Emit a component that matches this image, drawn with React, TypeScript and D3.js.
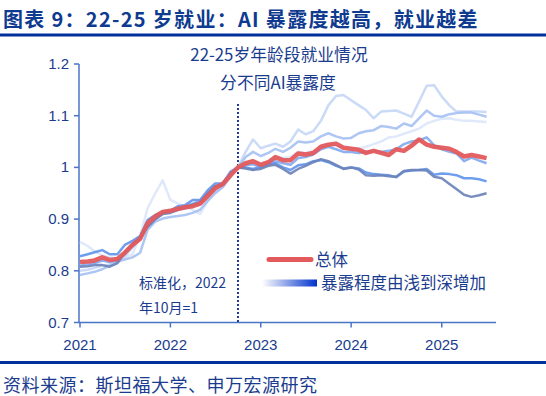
import React from 'react';
import * as d3 from 'd3';

// 月度数据：2021年1月 ~ 2025年7月，2022年10月 = 1
const START_YEAR = 2021;
const yearTicks = [2021, 2022, 2023, 2024, 2025];
const yTickValues = [0.7, 0.8, 0.9, 1, 1.1, 1.2];

const totalSeries = [
  0.817, 0.818, 0.82, 0.826, 0.821, 0.823, 0.835, 0.85, 0.862, 0.892, 0.905, 0.914, 0.916, 0.92, 0.923, 0.925, 0.93, 0.945, 0.96, 0.968, 0.985, 1.0,
  1.008, 1.012, 1.005, 1.01, 1.02, 1.014, 1.014, 1.027, 1.025, 1.028, 1.04, 1.044, 1.046, 1.038, 1.036, 1.034, 1.028, 1.032, 1.028, 1.024, 1.035, 1.032, 1.042, 1.054, 1.044, 1.04, 1.038, 1.036, 1.03, 1.021, 1.024, 1.021, 1.018,
];

// 暴露程度由浅到深
const exposure1 = [
  0.856, 0.848, 0.838, 0.83, 0.826, 0.824, 0.826, 0.832, 0.868, 0.921, 0.95, 0.975, 0.937, 0.93, 0.925, 0.918, 0.91, 0.935, 0.952, 0.962, 0.985, 1.0,
  1.005, 1.01, 1.008, 1.012, 1.02, 1.018, 1.02, 1.03, 1.028, 1.032, 1.04, 1.045, 1.042, 1.038, 1.035, 1.036, 1.04, 1.045, 1.05, 1.058, 1.06, 1.065, 1.07, 1.075, 1.085, 1.09, 1.094, 1.095, 1.092, 1.09, 1.09, 1.089, 1.088,
];
const exposure2 = [
  0.8, 0.802, 0.806, 0.81, 0.812, 0.815, 0.828, 0.845, 0.862, 0.89, 0.905, 0.912, 0.915, 0.918, 0.92, 0.925, 0.928, 0.94, 0.955, 0.965, 0.985, 1.0,
  1.03, 1.054, 1.037, 1.042, 1.046, 1.04, 1.05, 1.073, 1.064, 1.07, 1.09, 1.12, 1.138, 1.14, 1.13, 1.12, 1.111, 1.095, 1.108, 1.109, 1.11, 1.104, 1.098, 1.127, 1.158, 1.159, 1.137, 1.12, 1.108, 1.108, 1.108, 1.108, 1.107,
];
const exposure3 = [
  0.792, 0.795, 0.798, 0.803, 0.81, 0.818, 0.822, 0.826, 0.835, 0.879, 0.895, 0.901, 0.904, 0.906, 0.908, 0.912, 0.918, 0.935, 0.95, 0.962, 0.982, 1.0,
  1.02, 1.03, 1.022, 1.028, 1.036, 1.03, 1.038, 1.05, 1.048, 1.05, 1.06, 1.066, 1.06, 1.056, 1.057, 1.066, 1.07, 1.072, 1.08, 1.078, 1.075, 1.085, 1.08, 1.095, 1.11, 1.1, 1.098, 1.103, 1.105, 1.106, 1.106, 1.102, 1.098,
];
const exposure4 = [
  0.81, 0.812, 0.815, 0.82, 0.817, 0.82, 0.832, 0.848, 0.862, 0.885, 0.9, 0.91, 0.915, 0.92, 0.925, 0.93, 0.935, 0.948, 0.962, 0.97, 0.988, 1.0,
  1.004, 1.006, 1.0, 1.008, 1.012, 1.008, 1.005, 1.018, 1.02, 1.025, 1.035, 1.04, 1.035, 1.03, 1.03, 1.028, 1.03, 1.032, 1.03, 1.032, 1.035, 1.045, 1.05, 1.052, 1.058, 1.043, 1.035, 1.03, 1.027, 1.012, 1.019, 1.013, 1.008,
];
const exposure5 = [
  0.828, 0.832, 0.836, 0.84, 0.832, 0.832, 0.85, 0.858, 0.867, 0.898, 0.908, 0.914, 0.916, 0.925, 0.927, 0.937, 0.937, 0.956, 0.969, 0.969, 0.992, 1.0,
  1.0, 0.997, 1.001, 1.006, 1.008, 1.0, 0.995, 1.004, 1.006, 1.012, 1.014, 1.01, 1.003, 0.998, 1.0, 0.998, 0.99, 0.987, 0.986, 0.985, 0.981, 0.992, 0.994, 0.995, 0.997, 0.986, 0.988, 0.987, 0.985, 0.979, 0.979, 0.977, 0.973,
];
const exposure6 = [
  0.808, 0.809, 0.811, 0.811, 0.808, 0.815, 0.835, 0.852, 0.865, 0.885, 0.9, 0.91, 0.912, 0.918, 0.922, 0.928, 0.932, 0.95, 0.964, 0.966, 0.988, 1.0,
  0.998, 0.995, 0.997, 1.003, 1.005, 0.997, 0.988, 0.997, 1.003, 1.01, 1.016, 1.012, 1.005, 0.997, 1.0, 0.996, 0.985, 0.984, 0.985, 0.983, 0.982, 0.993, 0.995, 0.995, 0.994, 0.982, 0.979, 0.968, 0.958, 0.947, 0.943, 0.946, 0.95,
];

const blueSeries = [exposure1, exposure2, exposure3, exposure4, exposure5, exposure6];
const blueColors = ['#DCE7FA', '#C4D6F6', '#A5C0F2', '#80A8EE', '#6094EC', '#6A82B8'];

const TEXT = '#1A3C8E';
const AXIS = '#4A74C8';
const FONT = '"Liberation Sans", Arial, "Noto Sans CJK SC", sans-serif';
const CJK = '"Noto Sans CJK SC", "Liberation Sans", sans-serif';

const monthDate = (i: number) => new Date(START_YEAR, i, 1);

export default function App() {
  const width = 546;
  const height = 396;

  const x = d3.scaleTime()
    .domain([new Date(2021, 0, 1), new Date(2025, 7, 8)])
    .range([80, 496]);
  const y = d3.scaleLinear().domain([0.7, 1.2]).range([322.5, 64]);

  const line = d3.line<number>()
    .x((_, i) => x(monthDate(i)))
    .y(d => y(d));

  const refX = x(new Date(2022, 9, 1));

  return (
    <svg width={width} height={height} style={{ position: 'absolute', left: 0, top: 0, background: '#fff' }}>
      <defs>
        <linearGradient id="legendGrad" x1="0" x2="1" y1="0" y2="0">
          <stop offset="0%" stopColor="#ffffff" />
          <stop offset="100%" stopColor="#0033CC" />
        </linearGradient>
      </defs>

      {/* 标题 */}
      <text x={3} y={27} fontSize={20} fontWeight="bold" fill="#0E3A8F" fontFamily={CJK} letterSpacing={1.3}>
        图表 9：22-25 岁就业：AI 暴露度越高，就业越差
      </text>
      <rect x={0} y={33.5} width={width} height={3} fill="#00309C" />

      {/* 坐标轴 */}
      <line x1={79} x2={79} y1={y(1.2)} y2={y(0.7)} stroke={AXIS} strokeWidth={1.5} />
      <line x1={79} x2={496} y1={y(0.7)} y2={y(0.7)} stroke={AXIS} strokeWidth={1.5} />
      {yTickValues.map(v => (
        <g key={v}>
          <line x1={74} x2={79} y1={y(v)} y2={y(v)} stroke={AXIS} strokeWidth={1.5} />
          <text x={69} y={y(v) + 5} textAnchor="end" fontSize={15} fill={TEXT} fontFamily={FONT}>
            {v === 1 ? '1' : v.toFixed(1)}
          </text>
        </g>
      ))}
      {yearTicks.map(yr => {
        const xx = x(new Date(yr, 0, 1));
        return (
          <g key={yr}>
            <line x1={xx} x2={xx} y1={y(0.7)} y2={y(0.7) + 5} stroke={AXIS} strokeWidth={1.5} />
            <text x={xx} y={350} textAnchor="middle" fontSize={15} fill={TEXT} fontFamily={FONT}>
              {yr}
            </text>
          </g>
        );
      })}

      {/* 基准线 2022年10月 */}
      <line x1={refX} x2={refX} y1={104} y2={y(0.7)} stroke="#1E3A96" strokeWidth={2} strokeDasharray="2 2" />

      {/* 各暴露度分组 */}
      {blueSeries.map((s, i) => (
        <path key={i} d={line(s) || ''} fill="none" stroke={blueColors[i]} strokeWidth={2.5}
          strokeLinejoin="round" strokeOpacity={0.9} />
      ))}
      <path d={line(totalSeries) || ''} fill="none" stroke="#E35A5C" strokeWidth={4.5}
        strokeLinejoin="round" strokeOpacity={0.95} />

      {/* 注释 */}
      <text x={279} y={61} textAnchor="middle" fontSize={16.8} fill={TEXT} fontFamily={CJK}>22-25岁年龄段就业情况</text>
      <text x={278} y={89} textAnchor="middle" fontSize={16.8} fill={TEXT} fontFamily={CJK}>分不同AI暴露度</text>
      <text x={139} y={288} fontSize={14} fill={TEXT} fontFamily={CJK}>标准化，2022</text>
      <text x={139} y={313} fontSize={14} fill={TEXT} fontFamily={CJK}>年10月=1</text>

      {/* 图例 */}
      <line x1={269} x2={311} y1={259.5} y2={259.5} stroke="#E35A5C" strokeWidth={5} strokeLinecap="round" />
      <text x={315} y={266} fontSize={16.5} fill={TEXT} fontFamily={CJK}>总体</text>
      <rect x={262} y={279.5} width={55} height={7} fill="url(#legendGrad)" />
      <text x={321} y={289} fontSize={16.5} fill={TEXT} fontFamily={CJK}>暴露程度由浅到深增加</text>

      {/* 来源 */}
      <rect x={0} y={361} width={width} height={3} fill="#00309C" />
      <text x={3} y={392} fontSize={18} fill={TEXT} fontFamily={CJK} letterSpacing={0.5}>资料来源：斯坦福大学、申万宏源研究</text>
    </svg>
  );
}
